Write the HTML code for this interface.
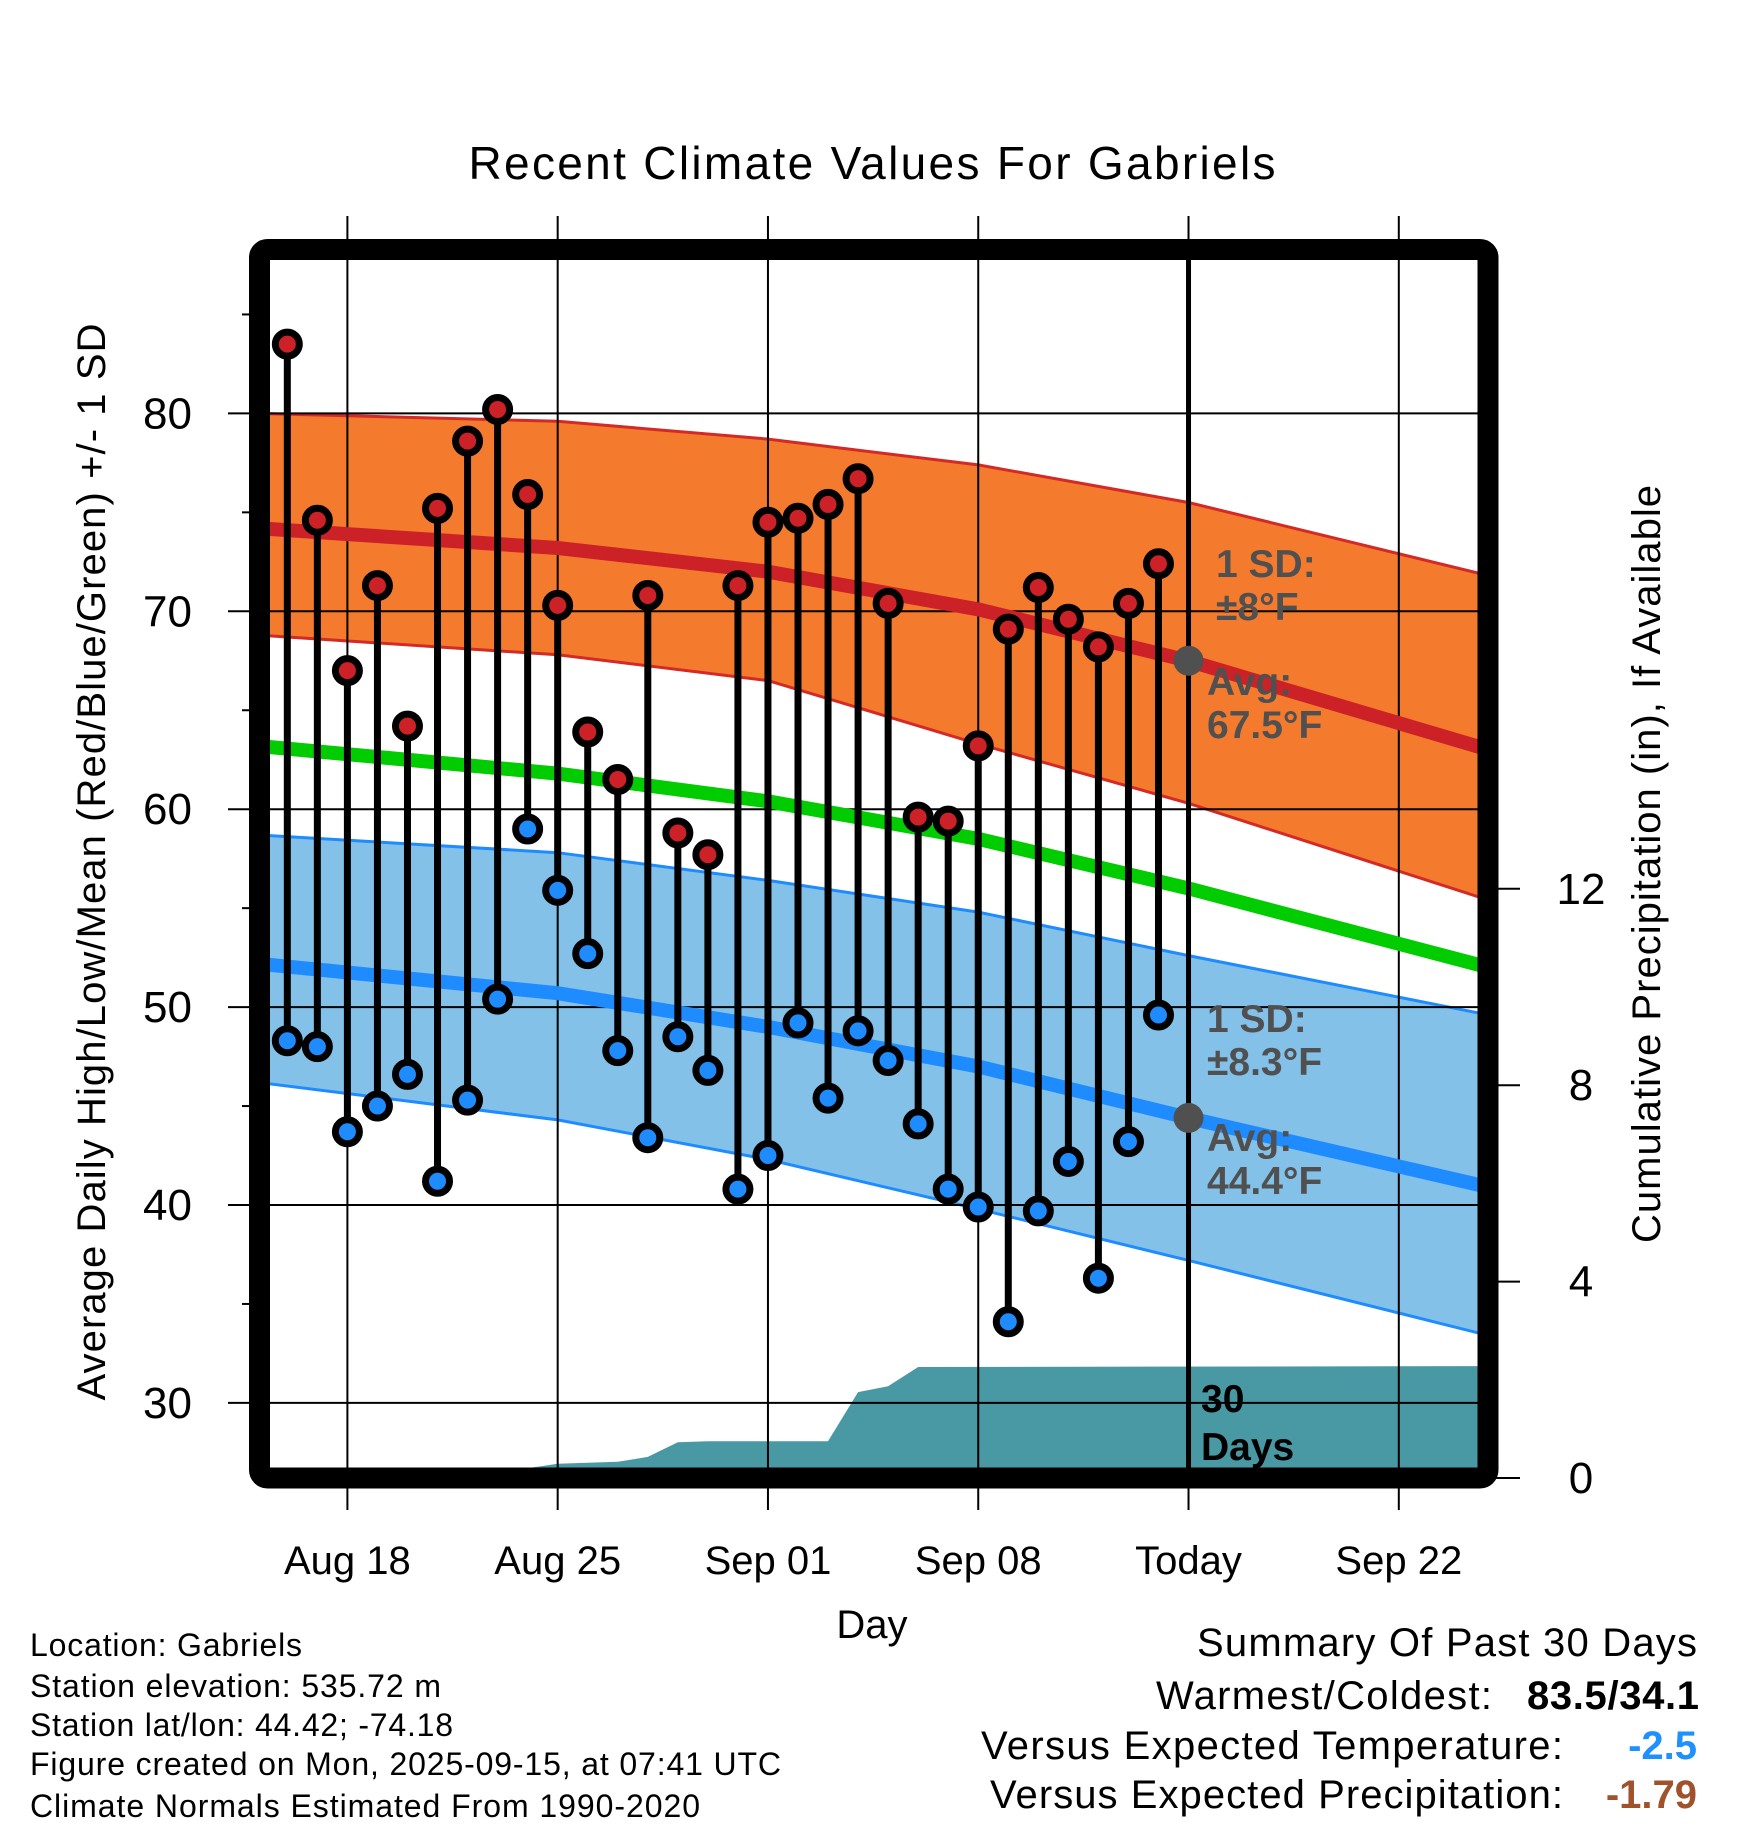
<!DOCTYPE html>
<html><head><meta charset="utf-8"><style>
html,body{margin:0;padding:0;background:#fff}
svg{display:block;font-family:"Liberation Sans",Arial,sans-serif}
</style></head><body>
<svg id="chart" width="1748" height="1828" viewBox="0 0 1748 1828" xmlns="http://www.w3.org/2000/svg">
<defs><clipPath id="plotclip"><rect x="270" y="260" width="1208" height="1208"/></clipPath></defs>
<g id="bands" clip-path="url(#plotclip)"></g>
<g id="grid"></g>
<g id="lines" clip-path="url(#plotclip)"></g>
<g id="marks"></g>
<g id="axes"></g>
<text x="872" y="179" font-size="46" text-anchor="middle" textLength="807">Recent Climate Values For Gabriels</text>
<text x="872" y="1638" font-size="40" text-anchor="middle">Day</text>
<text transform="translate(105,862) rotate(-90)" font-size="40" text-anchor="middle" textLength="1077">Average Daily High/Low/Mean (Red/Blue/Green) +/- 1 SD</text>
<text transform="translate(1660,864) rotate(-90)" font-size="40" text-anchor="middle" textLength="758">Cumulative Precipitation (in), If Available</text>
<g font-weight="bold" font-size="39" fill="#505050">
<text x="1216" y="577">1 SD:</text>
<text x="1216" y="620">±8°F</text>
<text x="1207" y="695">Avg:</text>
<text x="1207" y="738">67.5°F</text>
<text x="1207" y="1032">1 SD:</text>
<text x="1207" y="1075">±8.3°F</text>
<text x="1207" y="1151">Avg:</text>
<text x="1207" y="1194">44.4°F</text>
</g>
<g font-weight="bold" font-size="39" fill="#000">
<text x="1201" y="1412">30</text><text x="1201" y="1460">Days</text>
</g>
<g font-size="32">
<text x="30" y="1656" textLength="272">Location: Gabriels</text>
<text x="30" y="1697" textLength="411">Station elevation: 535.72 m</text>
<text x="30" y="1736" textLength="423">Station lat/lon: 44.42; -74.18</text>
<text x="30" y="1775" textLength="751">Figure created on Mon, 2025-09-15, at 07:41 UTC</text>
<text x="30" y="1817" textLength="670">Climate Normals Estimated From 1990-2020</text>
</g>
<g font-size="40">
<text x="1697" y="1656" text-anchor="end" textLength="500">Summary Of Past 30 Days</text>
<text x="1492" y="1709" text-anchor="end" textLength="336">Warmest/Coldest:</text>
<text x="1699" y="1709" text-anchor="end" font-weight="bold" textLength="172">83.5/34.1</text>
<text x="1563" y="1759" text-anchor="end" textLength="582">Versus Expected Temperature:</text>
<text x="1697" y="1759" text-anchor="end" font-weight="bold" fill="#1e90ff">-2.5</text>
<text x="1563" y="1808" text-anchor="end" textLength="573">Versus Expected Precipitation:</text>
<text x="1697" y="1808" text-anchor="end" font-weight="bold" fill="#a0522d">-1.79</text>
</g>
</svg>
<script>
// data: day index, 0 = Aug 18
const obsDays = [-2,-1,0,1,2,3,4,5,6,7,8,9,10,11,12,13,14,15,16,17,18,19,20,21,22,23,24,25,26,27];
const highs = [83.5,74.6,67.0,71.3,64.2,75.2,78.6,80.2,75.9,70.3,63.9,61.5,70.8,58.8,57.7,71.3,74.5,74.7,75.4,76.7,70.4,59.6,59.4,63.2,69.1,71.2,69.6,68.2,70.4,72.4];
const lows = [48.3,48.0,43.7,45.0,46.6,41.2,45.3,50.4,59.0,55.9,52.7,47.8,43.4,48.5,46.8,40.8,42.5,49.2,45.4,48.8,47.3,44.1,40.8,39.9,34.1,39.7,42.2,36.3,43.2,49.6];
const normDays = [-3,7,14,21,28,38];
const hiUpper = [80.0,79.6,78.7,77.4,75.5,71.8];
const hiMean = [74.2,73.2,72.0,70.1,67.5,63.0];
const hiLower = [68.8,67.8,66.5,63.3,60.3,55.4];
const avgMean = [63.2,61.8,60.4,58.5,56.0,52.0];
const loUpper = [58.7,57.8,56.4,54.8,52.6,49.6];
const loMean = [52.2,50.7,49.0,47.0,44.4,40.9];
const loLower = [46.2,44.3,42.3,39.8,37.2,33.4];
const precipDays = [6,7,9,10,11,12,16,17,18,19,38];
const precipVals = [0.2,0.29,0.33,0.43,0.73,0.75,0.75,1.75,1.87,2.26,2.28];
const todayDay = 28;
const todayHighAvg = 67.5, todayLowAvg = 44.4;
const xTickDays = [0,7,14,21,28,35];
const xTickLabels = ["Aug 18","Aug 25","Sep 01","Sep 08","Today","Sep 22"];
const yTicks = [30,40,50,60,70,80];
const yMinor = [35,45,55,65,75,85];
const pTicks = [0,4,8,12];

const X = d => 347.4 + d*30.04;
const Y = t => 413.4 + (80-t)*19.79;
const YP = p => 1478 - p*49.1;
const NS = 'http://www.w3.org/2000/svg';
function mk(tag, attrs, parent){const e=document.createElementNS(NS,tag);for(const k in attrs)e.setAttribute(k,attrs[k]);parent.appendChild(e);return e;}
const bands=document.getElementById('bands'), grid=document.getElementById('grid'), lines=document.getElementById('lines'), marks=document.getElementById('marks'), axes=document.getElementById('axes');
const pts=(ds,vs,f)=>ds.map((d,i)=>X(d).toFixed(1)+','+f(vs[i]).toFixed(1));
function band(up,lo,fill,stroke,name){
  const p=mk('polygon',{points:pts(normDays,up,Y).concat(pts(normDays,lo,Y).reverse()).join(' '),fill:fill},bands);
  
  
  [up,lo].forEach(a=>{const l=mk('polyline',{points:pts(normDays,a,Y).join(' '),fill:'none',stroke:stroke,'stroke-width':3},bands);
  
  });
}
band(hiUpper,hiLower,'#f47a2e','#d42a26','high-sd-band');
band(loUpper,loLower,'#84c1e8','#1e8cff','low-sd-band');
// precip
const pp=[X(precipDays[0]).toFixed(1)+','+YP(0)].concat(pts(precipDays,precipVals,YP)).concat([X(precipDays[precipDays.length-1]).toFixed(1)+','+YP(0)]);
const pa=mk('polygon',{points:pp.join(' '),fill:'#4899a3'},bands);


// grid
yTicks.forEach(t=>{const l=mk('line',{x1:228,x2:1488,y1:Y(t),y2:Y(t),stroke:'#000','stroke-width':2},grid);

});
xTickDays.forEach((d,i)=>{const l=mk('line',{x1:X(d),x2:X(d),y1:216,y2:1510,stroke:'#000','stroke-width':2},grid);

});
// mean lines
[[hiMean,'#cc2127','high-mean-line'],[avgMean,'#00cc00','mean-line'],[loMean,'#1e8cff','low-mean-line']].forEach(([a,c,n])=>{
  const l=mk('polyline',{points:pts(normDays,a,Y).join(' '),fill:'none',stroke:c,'stroke-width':14},lines);
  
  
});
// today line
const tl=mk('line',{x1:X(todayDay),x2:X(todayDay),y1:255,y2:1475,stroke:'#000','stroke-width':5},marks);


[todayHighAvg,todayLowAvg].forEach((v,i)=>{const c=mk('circle',{cx:X(todayDay),cy:Y(v),r:15,fill:'#505050'},marks);

});
// daily stems and dots
obsDays.forEach((d,i)=>{
  const s=mk('line',{x1:X(d),x2:X(d),y1:Y(highs[i]),y2:Y(lows[i]),stroke:'#000','stroke-width':7},marks);
  
  
  const h=mk('circle',{cx:X(d),cy:Y(highs[i]),r:12,fill:'#cc2127',stroke:'#000','stroke-width':7},marks);
  
  
  const lo=mk('circle',{cx:X(d),cy:Y(lows[i]),r:12,fill:'#1e8cff',stroke:'#000','stroke-width':7},marks);
  
  
});
// frame
const fr=mk('rect',{x:259.5,y:249.5,width:1228.5,height:1228.5,rx:8,fill:'none',stroke:'#000','stroke-width':21},axes);


// left ticks / labels
yTicks.forEach(t=>{const tx=mk('text',{x:192,y:Y(t)+15,'font-size':44,'text-anchor':'end'},axes);tx.textContent=t;

});
yMinor.forEach(t=>{const l=mk('line',{x1:242,x2:252,y1:Y(t),y2:Y(t),stroke:'#000','stroke-width':2},axes);

});
// right ticks
pTicks.forEach(p=>{const l=mk('line',{x1:1490,x2:1520,y1:YP(p),y2:YP(p),stroke:'#000','stroke-width':2},axes);


const tx=mk('text',{x:1581,y:YP(p)+15,'font-size':44,'text-anchor':'middle'},axes);tx.textContent=p;

});
// x labels
xTickDays.forEach((d,i)=>{const tx=mk('text',{x:X(d),y:1574,'font-size':40,'text-anchor':'middle'},axes);tx.textContent=xTickLabels[i];

});
</script>
</body></html>
